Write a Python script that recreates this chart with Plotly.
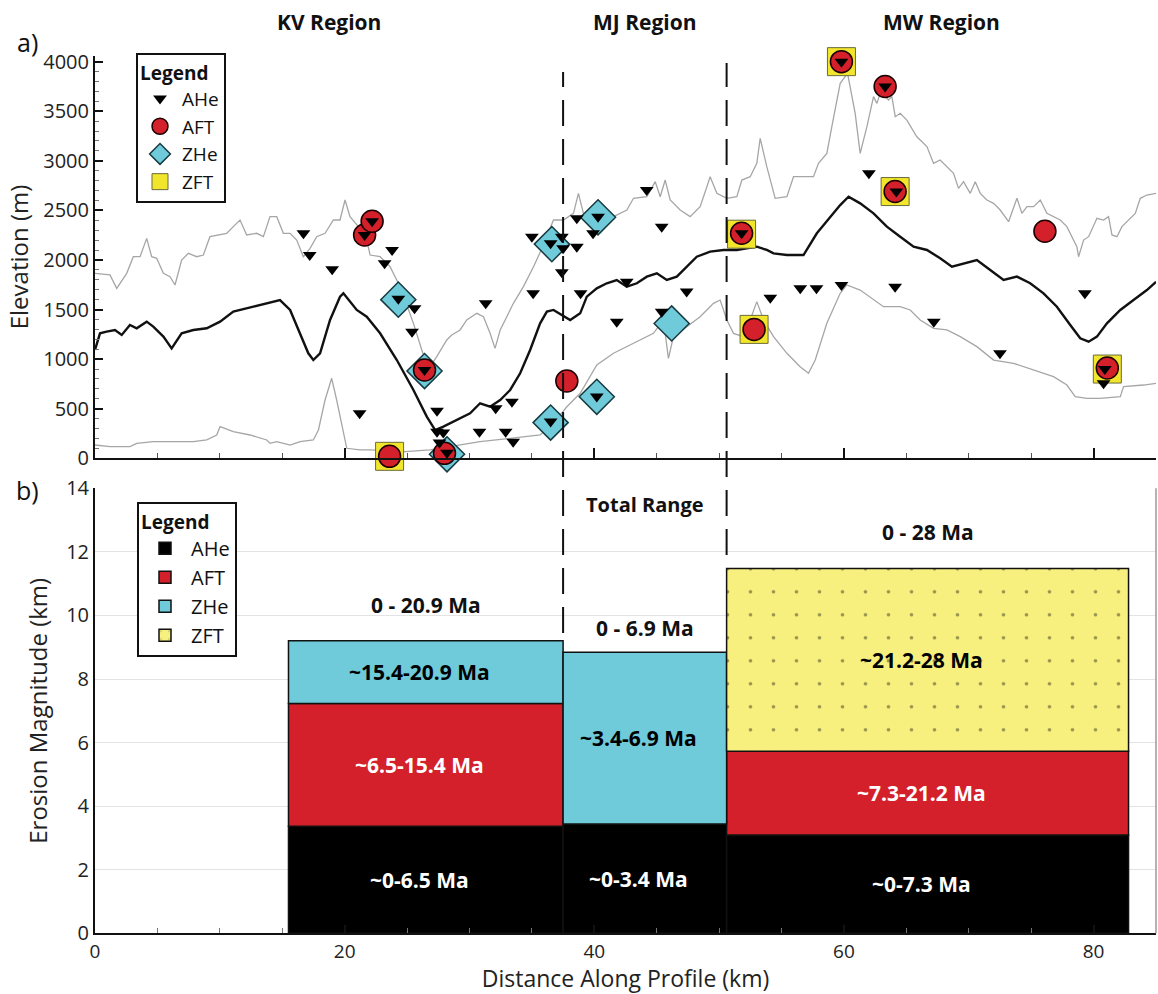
import plotly.graph_objects as go

# ---------------------------------------------------------------------------
# Panel a) topographic swath profile (distance km, elevation m)
# ---------------------------------------------------------------------------
max_x = [0.0, 1.20, 1.74, 2.54, 3.07, 3.61, 4.14, 4.54, 4.94, 5.48, 6.01, 6.41,
         6.94, 7.48, 8.15, 8.68, 9.21, 10.02, 10.55, 11.08, 11.62, 12.15, 12.95,
         13.49, 14.02, 14.56, 15.09, 15.63, 16.16, 16.69, 17.23, 17.76, 18.43,
         19.10, 19.63, 20.03, 20.43, 21.10, 21.77, 22.04, 22.84, 23.64, 24.44,
         24.84, 25.51, 26.18, 26.71, 27.38, 28.18, 28.58, 29.25, 29.78, 30.59,
         31.12, 31.65, 32.05, 32.46, 32.99, 33.52, 34.32, 35.13, 35.93, 36.73,
         37.53, 38.33, 38.73, 39.13, 40.20, 41.54, 42.61, 43.14, 44.21, 44.88,
         45.28, 45.68, 46.08, 46.88, 47.68, 48.48, 49.02, 49.28, 49.82, 50.62,
         51.42, 51.82, 52.49, 53.02, 53.29, 53.82, 54.49, 55.43, 55.96, 57.56,
         57.96, 58.63, 59.03, 59.70, 60.29, 60.90, 61.30, 61.84, 62.37, 62.64,
         62.91, 63.31, 63.57, 63.84, 64.11, 64.51, 65.04, 65.84, 66.65, 67.18,
         67.71, 68.25, 68.78, 69.18, 69.58, 70.12, 70.52, 70.92, 71.45, 71.99,
         72.52, 73.19, 73.59, 73.86, 74.26, 74.66, 75.19, 75.73, 76.26, 76.79,
         77.33, 77.86, 78.26, 78.66, 78.80, 79.20, 79.60, 80.00, 80.27, 80.80,
         81.20, 81.47, 81.87, 82.27, 82.67, 83.34, 83.74, 84.27, 85.0]
max_elev = [1865, 1849, 1714, 1865, 2033, 2033, 2218, 2033, 2017, 1865, 1832, 1748,
            2000, 2067, 2033, 2050, 2235, 2252, 2269, 2336, 2403, 2252, 2269,
            2235, 2437, 2437, 2269, 2269, 2201, 2033, 2117, 2235, 2269,
            2403, 2403, 2605, 2437, 2336, 2201, 2050, 2033, 1933, 1731,
            1596, 1361, 1092, 900, 1025, 1193, 1244, 1294, 1395, 1462,
            1428, 1261, 1109, 1294, 1428, 1563, 1731, 1932, 2150, 2403,
            2403, 2470, 2672, 2470, 2370, 2437, 2504, 2622, 2638, 2790,
            2638, 2806, 2605, 2504, 2437, 2538, 2739, 2840, 2672, 2622,
            2638, 2806, 2840, 2974, 3227, 2941, 2622, 2638, 2840, 2840,
            2974, 3075, 3344, 3781, 3882, 3479, 3075, 3344, 3647, 3579,
            3680, 3647, 3613, 3647, 3445, 3479, 3411, 3243, 3143, 2974,
            3008, 2941, 2874, 2722, 2790, 2672, 2790, 2672, 2605, 2571,
            2504, 2386, 2538, 2622, 2470, 2538, 2538, 2605, 2470, 2437,
            2403, 2336, 2235, 2134, 2033, 2201, 2235, 2336, 2420, 2403,
            2437, 2252, 2235, 2336, 2386, 2470, 2622, 2655, 2672]

mean_x = [0.0, 0.40, 0.93, 1.60, 2.14, 2.80, 3.34, 4.14, 4.67, 5.48, 6.14, 6.94,
          7.88, 8.95, 10.02, 11.08, 12.69, 13.76, 14.82, 15.63, 16.43, 17.09,
          17.49, 18.03, 18.83, 19.63, 19.90, 20.43, 20.97, 21.77, 22.84, 24.18,
          25.51, 26.58, 27.25, 27.91, 28.98, 30.05, 30.85, 31.65, 32.46, 33.26,
          34.06, 34.86, 35.66, 36.20, 36.73, 37.40, 38.07, 38.87, 39.40, 40.20,
          41.00, 41.80, 42.60, 43.41, 44.21, 45.01, 45.81, 46.61, 47.41, 48.21,
          49.28, 50.35, 51.42, 52.22, 53.02, 53.82, 54.36, 55.43, 56.76, 57.83,
          58.90, 59.70, 60.37, 61.30, 62.37, 63.44, 64.51, 65.58, 66.65, 67.71,
          68.65, 69.58, 70.65, 71.72, 72.79, 73.86, 74.92, 75.99, 77.06, 78.13,
          78.93, 79.60, 80.27, 81.07, 82.14, 83.20, 84.27, 85.0]
mean_elev = [1092, 1260, 1277, 1294, 1244, 1344, 1311, 1378, 1328, 1227, 1109, 1260,
             1294, 1311, 1378, 1479, 1529, 1563, 1596, 1496, 1260, 1059,
             991, 1059, 1395, 1630, 1664, 1580, 1496, 1428, 1261, 991,
             689, 420, 285, 319, 386, 454, 555, 520, 588, 689,
             857, 1092, 1361, 1479, 1496, 1445, 1395, 1462, 1630, 1714,
             1765, 1798, 1731, 1765, 1832, 1865, 1798, 1832, 1933, 2033,
             2084, 2101, 2101, 2117, 2134, 2101, 2067, 2050, 2050, 2269,
             2437, 2554, 2638, 2571, 2470, 2336, 2235, 2134, 2101, 2017,
             1933, 1966, 2000, 1899, 1798, 1832, 1765, 1664, 1529, 1344,
             1210, 1176, 1227, 1361, 1496, 1596, 1697, 1780]

min_x = [0.0, 1.20, 2.80, 3.34, 4.67, 6.28, 7.88, 8.95, 9.75, 10.02, 11.08, 12.42,
         13.76, 14.02, 14.56, 15.63, 16.43, 17.49, 17.90, 18.43, 18.96, 19.36,
         19.90, 20.17, 21.23, 22.04, 24.84, 26.84, 30.85, 33.52, 35.66, 36.73,
         37.80, 38.87, 40.20, 41.54, 43.14, 44.74, 45.54, 45.94, 46.34, 47.41,
         48.48, 49.55, 50.08, 50.62, 51.15, 51.95, 52.49, 53.02, 53.56, 54.36,
         55.43, 56.49, 57.16, 57.70, 58.63, 59.70, 60.23, 61.30, 62.37, 63.17,
         64.51, 65.31, 66.11, 67.18, 68.25, 69.32, 70.65, 71.99, 73.59, 75.19,
         76.79, 77.86, 78.53, 79.46, 80.53, 82.14, 82.40, 84.0, 85.0]
min_elev = [134, 118, 118, 151, 168, 168, 168, 185, 235, 319, 269, 235,
            185, 151, 168, 134, 168, 185, 286, 588, 807, 588,
            252, 101, 84, 84, 67, 84, 168, 202, 235, 353,
            520, 656, 941, 1059, 1160, 1260, 1395, 1008, 1227, 1328,
            1428, 1563, 1596, 1395, 1260, 1227, 1395, 1580, 1395, 1227,
            1059, 924, 857, 991, 1361, 1664, 1748, 1697, 1596, 1529,
            1529, 1496, 1395, 1311, 1294, 1227, 1126, 991, 958, 891,
            823, 739, 622, 605, 605, 622, 723, 739, 756]

# Thermochronology sample locations (distance km, elevation m)
ahe_x = [16.7, 17.2, 19.0, 21.2, 21.6, 22.2, 23.2, 23.8, 24.3, 25.6, 25.4, 26.4,
         27.4, 27.4, 27.9, 27.6, 28.2, 30.8, 31.3, 32.1, 32.9, 33.4, 33.5, 35.1,
         35.0, 36.5, 37.4, 37.5, 37.4, 38.6, 38.6, 38.9, 39.9, 40.3, 36.5, 40.2,
         41.8, 42.6, 44.2, 45.4, 45.4, 47.4, 51.8, 54.1, 56.5, 57.8, 59.8, 64.1,
         62.0, 59.8, 63.3, 64.2, 67.2, 72.5, 79.3, 80.8, 80.9]
ahe_elev = [2269, 2050, 1906, 454, 2252, 2390, 1966, 2100, 1610, 1513, 1277, 890,
            480, 269, 260, 160, 55, 269, 1563, 504, 269, 571, 168, 1664,
            2235, 2168, 2235, 2118, 1875, 2134, 2420, 1664, 2269, 2437, 370, 622,
            1378, 1781, 2706, 2336, 1479, 1681, 2269, 1620, 1714, 1714, 1748, 1731,
            2874, 4000, 3750, 2690, 1378, 1059, 1664, 756, 900]

aft_x = [21.6, 22.2, 23.6, 26.4, 28.0, 37.8, 51.8, 52.8, 59.8, 63.3, 64.1, 76.1, 81.1]
aft_elev = [2252, 2390, 20, 890, 50, 780, 2270, 1300, 4000, 3750, 2690, 2290, 910]

zhe_x = [24.3, 26.4, 28.2, 36.6, 40.3, 36.5, 40.2, 46.2]
zhe_elev = [1600, 880, 40, 2160, 2430, 360, 620, 1360]

zft_x = [23.6, 51.8, 52.8, 59.8, 64.1, 81.1]
zft_elev = [20, 2260, 1300, 4000, 2690, 900]

# ---------------------------------------------------------------------------
# Panel b) erosion magnitude per region (km), stacked by thermochronometer
# ---------------------------------------------------------------------------
region_names = ["KV Region", "MJ Region", "MW Region"]
region_bounds = [0.0, 37.5, 50.6, 85.0]
bar_left = [15.5, 37.5, 50.6]
bar_right = [37.5, 50.6, 82.8]

systems = ["AHe", "AFT", "ZHe", "ZFT"]
# cumulative erosion (km) at the top of each system's band; None = not present
band_top = {
    "AHe": [3.37, 3.44, 3.09],
    "AFT": [7.23, None, 5.73],
    "ZHe": [9.20, 8.84, None],
    "ZFT": [None, None, 11.48],
}
band_labels = {
    "AHe": ["~0-6.5 Ma", "~0-3.4 Ma", "~0-7.3 Ma"],
    "AFT": ["~6.5-15.4 Ma", None, "~7.3-21.2 Ma"],
    "ZHe": ["~15.4-20.9 Ma", "~3.4-6.9 Ma", None],
    "ZFT": [None, None, "~21.2-28 Ma"],
}
total_labels = ["0 - 20.9 Ma", "0 - 6.9 Ma", "0 - 28 Ma"]

# ---------------------------------------------------------------------------
FONT = "Open Sans"
RED = "#d4202a"
CYAN = "#6fcad9"
YELLOW_MK = "#f2e62c"
YELLOW_BAR = "#f8f07e"
fills = {"AHe": "#000000", "AFT": RED, "ZHe": CYAN, "ZFT": YELLOW_BAR}
label_colors = {"AHe": "white", "AFT": "white", "ZHe": "black", "ZFT": "black"}

W, H, L, R = 1158, 994, 95, 2
PW = W - L - R


def px_x(px):
    """paper x for a pixel column"""
    return (px - L) / PW


def px_y(py):
    """paper y for a pixel row"""
    return 1 - py / H


fig = go.Figure()

# profile lines
fig.add_trace(go.Scatter(x=max_x, y=max_elev, mode="lines", showlegend=False,
                         line=dict(color="#a6a6a6", width=1.3), xaxis="x", yaxis="y"))
fig.add_trace(go.Scatter(x=min_x, y=min_elev, mode="lines", showlegend=False,
                         line=dict(color="#a6a6a6", width=1.3), xaxis="x", yaxis="y"))
fig.add_trace(go.Scatter(x=mean_x, y=mean_elev, mode="lines", showlegend=False,
                         line=dict(color="#111111", width=2.4), xaxis="x", yaxis="y"))

# samples (largest symbol first so smaller ones sit on top)
fig.add_trace(go.Scatter(
    x=zft_x, y=zft_elev, mode="markers", name="ZFT", legend="legend", legendrank=4,
    marker=dict(symbol="square", size=28, color=YELLOW_MK, line=dict(color="#6b6a3a", width=1)),
    cliponaxis=False, xaxis="x", yaxis="y"))
fig.add_trace(go.Scatter(
    x=zhe_x, y=zhe_elev, mode="markers", name="ZHe", legend="legend", legendrank=3,
    marker=dict(symbol="diamond", size=27, color=CYAN, line=dict(color="#163a40", width=1.5)),
    cliponaxis=False, xaxis="x", yaxis="y"))
fig.add_trace(go.Scatter(
    x=aft_x, y=aft_elev, mode="markers", name="AFT", legend="legend", legendrank=2,
    marker=dict(symbol="circle", size=22, color=RED, line=dict(color="#1a0000", width=1.5)),
    cliponaxis=False, xaxis="x", yaxis="y"))
fig.add_trace(go.Scatter(
    x=ahe_x, y=ahe_elev, mode="markers", name="AHe", legend="legend", legendrank=1,
    marker=dict(symbol="triangle-down", size=12, color="#000000", line=dict(width=0)),
    cliponaxis=False, xaxis="x", yaxis="y"))

# stacked erosion bars
centers = [(l + r) / 2 for l, r in zip(bar_left, bar_right)]
widths = [r - l for l, r in zip(bar_left, bar_right)]
running = [0.0, 0.0, 0.0]
annotations = []
for rank, s in enumerate(systems, start=1):
    xs, ys, bs, ws = [], [], [], []
    for i in range(3):
        top = band_top[s][i]
        if top is None:
            continue
        xs.append(centers[i])
        ws.append(widths[i])
        bs.append(running[i])
        ys.append(top - running[i])
        annotations.append(dict(
            x=centers[i], y=(running[i] + top) / 2, xref="x2", yref="y2",
            text="<b>%s</b>" % band_labels[s][i], showarrow=False, xshift=-6,
            font=dict(family=FONT, size=21, color=label_colors[s])))
        running[i] = top
    marker = dict(color=fills[s], line=dict(color="#111111", width=1.5))
    if s == "ZFT":
        marker["pattern"] = dict(shape=".", fgcolor="#3a3a20", bgcolor=YELLOW_BAR,
                                 size=23, solidity=0.02)
    fig.add_trace(go.Bar(x=xs, y=ys, base=bs, width=ws, name=s, marker=marker,
                         legend="legend2", legendrank=rank, xaxis="x2", yaxis="y2"))

lift_px = [36, 24, 36]
for i in range(3):
    annotations.append(dict(
        x=centers[i], y=running[i], xref="x2", yref="y2", yshift=lift_px[i],
        text="<b>%s</b>" % total_labels[i], showarrow=False, yanchor="middle",
        font=dict(family=FONT, size=21, color="#111111")))
annotations.append(dict(
    x=(region_bounds[1] + region_bounds[2]) / 2, y=13.5, xref="x2", yref="y2",
    text="<b>Total Range</b>", showarrow=False, yanchor="middle",
    font=dict(family=FONT, size=20, color="#111111")))

# region titles above panel a)
for i, name in enumerate(region_names):
    annotations.append(dict(
        x=(region_bounds[i] + region_bounds[i + 1]) / 2, y=px_y(22),
        xref="x", yref="paper", text="<b>%s</b>" % name, showarrow=False,
        yanchor="middle", font=dict(family=FONT, size=21, color="#111111")))

# panel letters
annotations.append(dict(x=px_x(27), y=px_y(42), xref="paper", yref="paper",
                        text="a)", showarrow=False, xanchor="center", yanchor="middle",
                        font=dict(family=FONT, size=25, color="#111111")))
annotations.append(dict(x=px_x(27), y=px_y(490), xref="paper", yref="paper",
                        text="b)", showarrow=False, xanchor="center", yanchor="middle",
                        font=dict(family=FONT, size=25, color="#111111")))

# region boundaries as dashed lines crossing both panels
dash = dict(color="#111111", width=2, dash="26px,13px")
shapes = [
    dict(type="line", xref="x2", yref="paper", x0=region_bounds[1], x1=region_bounds[1],
         y0=px_y(633), y1=px_y(72), line=dash),
    dict(type="line", xref="x2", yref="paper", x0=region_bounds[2], x1=region_bounds[2],
         y0=px_y(555), y1=px_y(63), line=dash),
    dict(type="line", xref="x2 domain", yref="y2 domain", x0=1, x1=1, y0=0, y1=1,
         line=dict(color="#9a9a9a", width=1.5)),
]

tick_font = dict(family=FONT, size=20, color="#222222")
title_font = dict(family=FONT, size=24, color="#222222")

fig.update_layout(
    width=W, height=H,
    margin=dict(l=L, r=R, t=0, b=0, autoexpand=False),
    paper_bgcolor="white", plot_bgcolor="white",
    font=dict(family=FONT, color="#111111"),
    barmode="overlay",
    showlegend=True,
    annotations=annotations,
    shapes=shapes,
    xaxis=dict(domain=[0, 1], anchor="y", range=[0, 85], showgrid=False, zeroline=False,
               showline=True, linecolor="#111111", linewidth=2, showticklabels=False,
               tick0=0, dtick=20, ticks="inside", ticklen=10, tickwidth=2, tickcolor="#111111",
               minor=dict(dtick=5, ticks="inside", ticklen=5, tickwidth=1, tickcolor="#555555")),
    yaxis=dict(domain=[px_y(458.3), px_y(55.7)], anchor="x", range=[0, 4060],
               showgrid=False, zeroline=False, showline=True, linecolor="#111111", linewidth=2,
               tick0=0, dtick=500, ticks="inside", ticklen=8, tickwidth=1.5, tickcolor="#111111",
               minor=dict(dtick=100, ticks="inside", ticklen=4, tickwidth=1, tickcolor="#777777"),
               tickfont=tick_font, title=dict(text="Elevation (m)", font=title_font, standoff=8)),
    xaxis2=dict(domain=[0, 1], anchor="y2", range=[0, 85], showgrid=False, zeroline=False,
                showline=True, linecolor="#111111", linewidth=2,
                tick0=0, dtick=20, ticks="inside", ticklen=8, tickwidth=1.5, tickcolor="#111111",
                minor=dict(dtick=5, ticks="inside", ticklen=5, tickwidth=1, tickcolor="#777777"),
                tickfont=dict(family=FONT, size=19, color="#222222"),
                title=dict(text="Distance Along Profile (km)",
                           font=dict(family=FONT, size=23, color="#222222"), standoff=9)),
    yaxis2=dict(domain=[px_y(933.3), px_y(488.3)], anchor="x2", range=[0, 14],
                showgrid=True, gridcolor="#e3e3e3", gridwidth=1, zeroline=False,
                showline=True, linecolor="#111111", linewidth=2, tick0=0, dtick=2, ticks="",
                tickfont=tick_font,
                title=dict(text="Erosion Magnitude (km)", font=title_font, standoff=12)),
    legend=dict(x=px_x(136), y=px_y(53), xanchor="left", yanchor="top",
                bgcolor="white", bordercolor="#111111", borderwidth=2,
                title=dict(text="<b>Legend</b>", font=dict(family=FONT, size=19)),
                font=dict(family=FONT, size=19, color="#111111"),
                itemsizing="trace", itemwidth=34, tracegroupgap=0),
    legend2=dict(x=px_x(137), y=px_y(502), xanchor="left", yanchor="top",
                 bgcolor="white", bordercolor="#111111", borderwidth=2,
                 title=dict(text="<b>Legend</b>", font=dict(family=FONT, size=19)),
                 font=dict(family=FONT, size=20, color="#111111"),
                 itemwidth=42, tracegroupgap=0),
)

fig.write_html("out.html")
